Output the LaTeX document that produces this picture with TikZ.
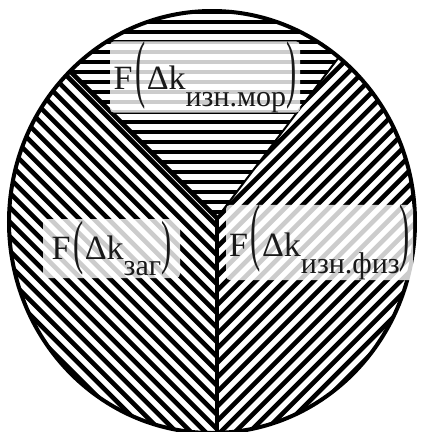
\documentclass[tikz,border=0pt]{standalone}
\usepackage{fontspec}
\setmainfont{Liberation Serif}
\usepackage{graphicx}
\newcommand\mylbl[3]{F\kern3pt\raisebox{#3}{\scalebox{0.9}[#2]{(}}\kern1pt Δk\raisebox{-17pt}{\fontsize{30}{30}\selectfont #1}\raisebox{#3}{\scalebox{0.9}[#2]{)}}}
\tikzset{
  hatch/.style={line width=4.6pt},
  rim/.style={line width=4pt},
  lblbox/.style={fill=white, fill opacity=0.8, text opacity=1, rounded corners=4pt,
    inner sep=0pt, text=black!90, font=\fontsize{34}{34}\selectfont},
}
\begin{document}
\begin{tikzpicture}[x=1pt,y=-1pt]
\useasboundingbox (0,0) rectangle (422,432);
\coordinate (J) at (217,218);
\coordinate (L) at (70,71);
\coordinate (R) at (339,57);
\coordinate (B) at (217,440);
\coordinate (C) at (212,222);
% top sector: horizontal hatching
\begin{scope}
  \clip (C) ellipse [x radius=203, y radius=211];
  \begin{scope}
    \clip (J) -- (-83,-82) -- (461,-104) -- cycle;
    \foreach \y in {2,12,...,232} \draw[hatch] (0,\y) -- (422,\y);
  \end{scope}
  \begin{scope}
    \clip (J) -- (-83,-82) -- (-83,500) -- (217,500) -- cycle;
    \foreach \c in {-600,-585.5,...,700} \draw[hatch] (-100,-100+\c) -- (600,600+\c);
  \end{scope}
  \begin{scope}
    \clip (J) -- (461,-104) -- (600,500) -- (217,500) -- cycle;
    \foreach \c in {0,14.5,...,1200} \draw[hatch] (-100,100+\c) -- (600,-600+\c);
  \end{scope}
  \draw[line width=4.6pt] (J) -- (L);
  \draw[line width=2pt] (J) -- (R);
  \draw[line width=3.6pt] (J) -- (B);
\end{scope}
\draw[rim] (C) ellipse [x radius=203, y radius=211];
\node[lblbox, minimum width=190pt, minimum height=66pt] (tl) at (205,77) {\mylbl{изн.мор}{2.2}{-4pt}};
\node[lblbox, minimum width=137pt, minimum height=59pt] (ll) at (111.5,248.5) {\mylbl{заг}{1.75}{-3pt}};
\node[lblbox, minimum width=187pt, minimum height=61pt] (rl) at (319.5,242.5) {\mylbl{изн.физ}{2.2}{0pt}};
\end{tikzpicture}
\end{document}
